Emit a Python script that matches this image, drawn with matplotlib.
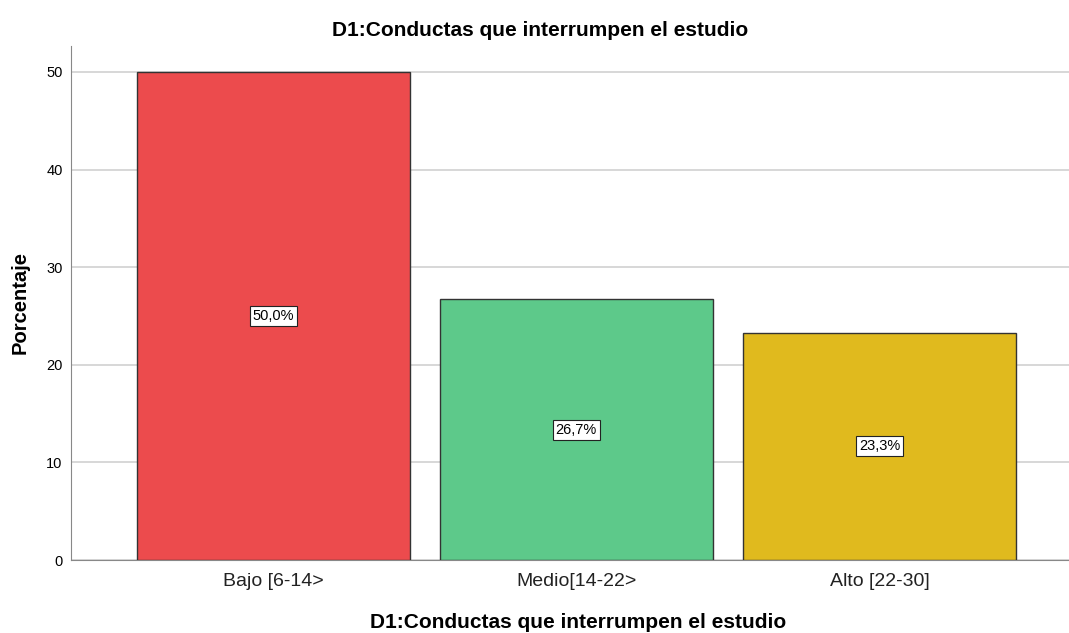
import matplotlib
matplotlib.use("Agg")
import matplotlib.pyplot as plt

plt.rcParams['font.family'] = ['Liberation Sans', 'DejaVu Sans']

categorias = ['Bajo [6-14>', 'Medio[14-22>', 'Alto [22-30]']
porcentajes = [50.0, 26.7, 23.3]
etiquetas = ['50,0%', '26,7%', '23,3%']
colores = ['#EC4B4D', '#5DC98A', '#E0BA1E']

fig = plt.figure(figsize=(10.69, 6.33), dpi=100)
ax = fig.add_axes([71 / 1069, 73 / 633, 1 - 71 / 1069, (560 - 46) / 633])

pos = list(range(len(categorias)))
ax.bar(pos, porcentajes, width=0.9, color=colores, edgecolor='#333333', linewidth=1, zorder=3)

for x, v, t in zip(pos, porcentajes, etiquetas):
    ax.text(x, v / 2, t, ha='center', va='center', fontsize=10.5, zorder=4,
            bbox=dict(boxstyle='square,pad=0.2', fc='white', ec='#222222', lw=0.8))

ax.set_xlim(-0.667, 2.625)
ax.set_ylim(0, 52.66)
ax.set_yticks([0, 10, 20, 30, 40, 50])
ax.set_xticks(pos)
ax.set_xticklabels(categorias, fontsize=14, color='#222222')
ax.tick_params(axis='y', length=0, labelsize=10.5, pad=6)
ax.tick_params(axis='x', length=0, pad=9)
ax.grid(axis='y', color='#D4D4D4', linewidth=1.3, zorder=0)

for s in ['top', 'right']:
    ax.spines[s].set_visible(False)
ax.spines['left'].set_color('#888888')
ax.spines['bottom'].set_color('#888888')

fig.text(540 / 1069, 1 - 30 / 633, 'D1:Conductas que interrumpen el estudio',
         fontsize=15, fontweight='bold', ha='center', va='center')
fig.text(578 / 1069, 1 - 622 / 633, 'D1:Conductas que interrumpen el estudio',
         fontsize=15, fontweight='bold', ha='center', va='center')
ax.set_ylabel('Porcentaje', fontsize=14.5, fontweight='bold', labelpad=12)

fig.savefig('out.png', dpi=100)
